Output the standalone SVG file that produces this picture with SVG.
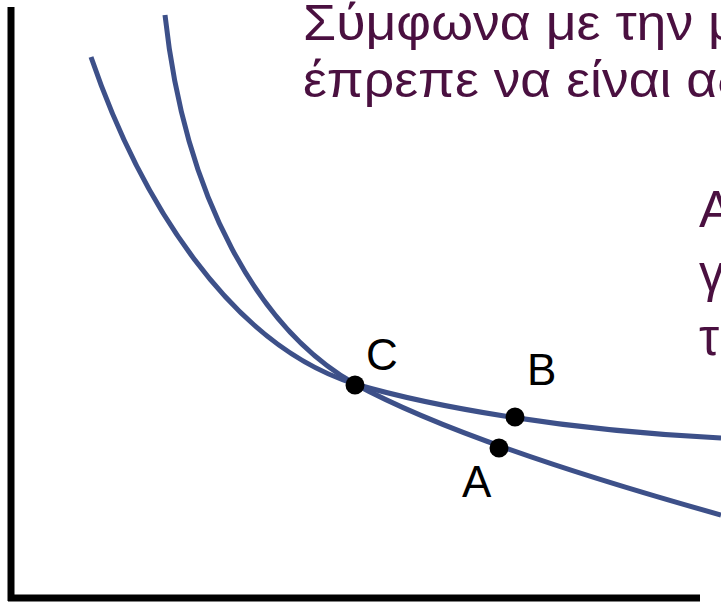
<svg xmlns="http://www.w3.org/2000/svg" width="721" height="602" viewBox="0 0 721 602">
<style>
.t{font-family:"Liberation Sans",Arial,sans-serif;fill:#4A1040}
.lbl{font-family:"Liberation Sans",Arial,sans-serif;font-size:44px;fill:#000}
.curve{fill:none;stroke:#3D5089;stroke-width:5}
.dot{fill:#000}
</style>
<rect width="721" height="602" fill="#fff"/>
<g id="axes" stroke="#000" stroke-width="7" fill="none">
<line x1="11" y1="7" x2="11" y2="601"/>
<line x1="8" y1="598" x2="700" y2="598"/>
</g>
<g id="connectors">
<path class="curve" d="M165,15 C185,200 260,330 355,384 C430,425 560,470 721,515"/>
<path class="curve" d="M91,57 C140,200 230,345 355,384 C430,406 560,430 721,438"/>
</g>
<g id="text-title">
<text class="t" x="303" y="40" font-size="50" textLength="436" lengthAdjust="spacingAndGlyphs">Σύμφωνα με την μ</text>
<text class="t" x="303" y="97" font-size="50" textLength="444" lengthAdjust="spacingAndGlyphs">έπρεπε να είναι αδ</text>
</g>
<g id="text-right">
<text class="t" x="699" y="227" font-size="51">Α</text>
<text class="t" x="699" y="291" font-size="51">γ</text>
<text class="t" x="699" y="355" font-size="51">τε</text>
</g>
<g id="node-C"><circle class="dot" cx="355" cy="385" r="9.5"/><text class="lbl" x="366" y="370">C</text></g>
<g id="node-B"><circle class="dot" cx="515" cy="417" r="9.5"/><text class="lbl" x="527" y="385">B</text></g>
<g id="node-A"><circle class="dot" cx="499" cy="448" r="9.5"/><text class="lbl" x="462" y="497">A</text></g>
</svg>
